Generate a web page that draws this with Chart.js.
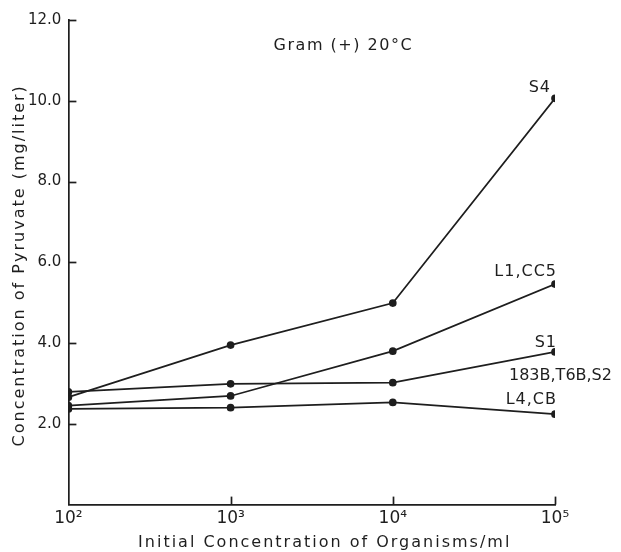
<!DOCTYPE html>
<html>
<head>
<meta charset="utf-8">
<script src="https://cdn.jsdelivr.net/npm/chart.js@4/dist/chart.umd.min.js"></script>
<style>
  html, body { margin: 0; padding: 0; background: #fff; }
  #wrap { width: 621px; height: 552px; }
</style>
</head>
<body>
<div id="wrap"><canvas id="c" width="621" height="552"></canvas></div>
<script>
// ---- data ----
const categories = [100, 1000, 10000, 100000];
const xTickLabels = ['10²', '10³', '10⁴', '10⁵'];
const yTickValues = [2, 4, 6, 8, 10, 12];
const seriesNames = ['S4', 'L1,CC5', 'S1', 'L4,CB'];
const s4 = [2.66, 3.95, 4.99, 10.06];
const l1cc5 = [2.45, 2.69, 3.80, 5.46];
const s1 = [2.79, 2.99, 3.02, 3.78];
const l4cb = [2.37, 2.40, 2.53, 2.24];
const extraLabel = '183B,T6B,S2';
const chartTitle = 'Gram (+) 20°C';
const xTitle = 'Initial Concentration of Organisms/ml';
const yTitle = 'Concentration of Pyruvate (mg/liter)';

const INK = '#1e1e1e';
const FONT = "'DejaVu Sans', sans-serif";

function toPoints(vals) { return categories.map((c, i) => ({ x: c, y: vals[i] })); }

const seriesValues = [s4, l1cc5, s1, l4cb];
const datasets = seriesValues.map((vals, i) => ({
  label: seriesNames[i],
  data: toPoints(vals),
  borderColor: INK,
  backgroundColor: INK,
  borderWidth: 1.7,
  pointRadius: 3,
  pointHoverRadius: 3,
  tension: 0
}));

// label placement relative to each series' last point (style, not data)
const labelOffsets = [
  { dx: -4, dy: -3, align: 'right' },
  { dx: 2, dy: -5, align: 'right' },
  { dx: 2, dy: -2, align: 'right' },
  { dx: 2, dy: -7, align: 'right' }
];

const decorPlugin = {
  id: 'decor',
  afterDraw(chart) {
    const ctx = chart.ctx;
    const xs = chart.scales.x, ys = chart.scales.y;
    const area = chart.chartArea;
    ctx.save();
    ctx.strokeStyle = INK;
    ctx.lineWidth = 1.7;
    // inward tick marks
    yTickValues.forEach(v => {
      const py = Math.round(ys.getPixelForValue(v)) + 0.5;
      ctx.beginPath();
      ctx.moveTo(area.left, py);
      ctx.lineTo(area.left + 8, py);
      ctx.stroke();
    });
    categories.forEach(v => {
      if (v === categories[0]) return;
      const px = Math.round(xs.getPixelForValue(v)) + 0.5;
      ctx.beginPath();
      ctx.moveTo(px, area.bottom);
      ctx.lineTo(px, area.bottom - 8);
      ctx.stroke();
    });
    ctx.fillStyle = INK;
    ctx.letterSpacing = '1px';
    ctx.font = '16px ' + FONT;
    // series end labels
    ctx.textBaseline = 'alphabetic';
    chart.data.datasets.forEach((ds, i) => {
      const meta = chart.getDatasetMeta(i);
      const last = meta.data[meta.data.length - 1];
      const o = labelOffsets[i];
      ctx.textAlign = o.align;
      ctx.fillText(ds.label, last.x + o.dx, last.y + o.dy - 3);
    });
    // extra group label sitting under S1's end point
    const m = chart.getDatasetMeta(2);
    const lp = m.data[m.data.length - 1];
    ctx.letterSpacing = '0px';
    ctx.textAlign = 'left';
    ctx.textBaseline = 'middle';
    ctx.fillText(extraLabel, lp.x - 46, lp.y + 24);
    // title inside plot
    ctx.letterSpacing = '1.5px';
    ctx.textAlign = 'center';
    ctx.textBaseline = 'middle';
    ctx.fillText(chartTitle, area.left + (area.right - area.left) * 0.565, ys.getPixelForValue(11.35));
    // axis titles
    ctx.letterSpacing = '2px';
    ctx.textBaseline = 'middle';
    ctx.fillText(xTitle, (area.left + area.right) / 2 + 13, area.bottom + 38);
    ctx.save();
    ctx.translate(20, (area.top + area.bottom) / 2 + 3);
    ctx.rotate(-Math.PI / 2);
    ctx.fillText(yTitle, 0, 0);
    ctx.restore();
    ctx.restore();
  }
};

new Chart(document.getElementById('c'), {
  type: 'line',
  data: { datasets },
  options: {
    responsive: false,
    animation: false,
    events: [],
    layout: { padding: { left: 21, right: 66, top: 20, bottom: 19 } },
    plugins: { legend: { display: false }, tooltip: { enabled: false } },
    scales: {
      x: {
        type: 'logarithmic',
        min: categories[0],
        max: categories[categories.length - 1],
        afterBuildTicks(scale) { scale.ticks = categories.map(v => ({ value: v })); },
        ticks: {
          autoSkip: false,
          maxRotation: 0,
          color: INK,
          font: { family: FONT, size: 17 },
          padding: 4,
          callback(v) { const i = categories.indexOf(v); return i >= 0 ? xTickLabels[i] : ''; }
        },
        grid: { display: false, drawTicks: false, tickLength: 0 },
        border: { display: true, color: INK, width: 1.7 }
      },
      y: {
        min: 0,
        max: 12,
        afterBuildTicks(scale) { scale.ticks = [0].concat(yTickValues).map(v => ({ value: v })); },
        ticks: {
          color: INK,
          font: { family: FONT, size: 15 },
          padding: 7,
          callback(v) { return v === 0 ? '' : v.toFixed(1); }
        },
        grid: { display: false, drawTicks: false, tickLength: 0 },
        border: { display: true, color: INK, width: 1.7 }
      }
    }
  },
  plugins: [decorPlugin]
});
</script>
</body>
</html>
